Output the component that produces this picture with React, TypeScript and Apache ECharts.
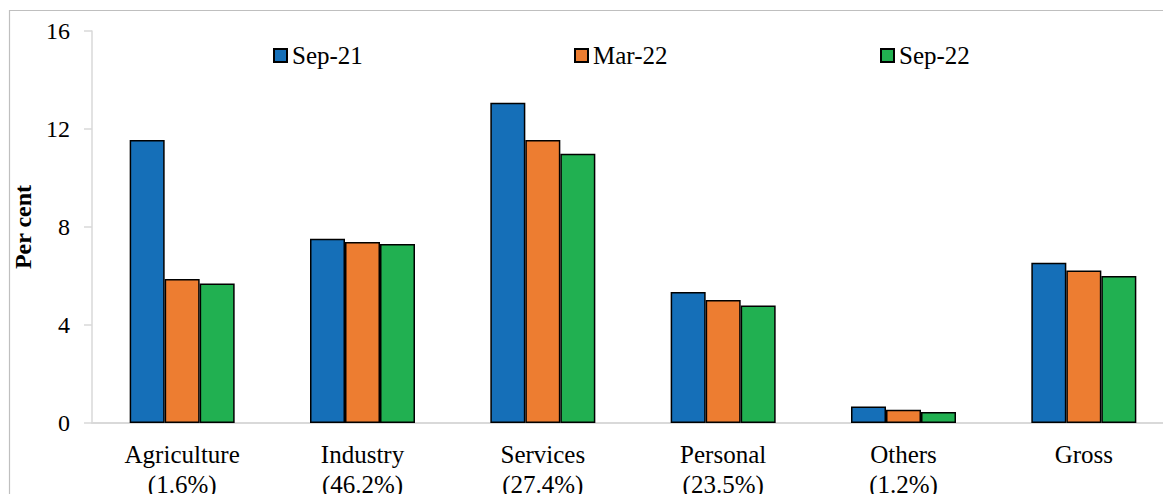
import React, { useEffect, useRef } from "react";
import * as echarts from "echarts";

const categories = [
  "Agriculture\n(1.6%)",
  "Industry\n(46.2%)",
  "Services\n(27.4%)",
  "Personal\n(23.5%)",
  "Others\n(1.2%)",
  "Gross",
];
const seriesNames = ["Sep-21", "Mar-22", "Sep-22"];
const sep21 = [11.55, 7.52, 13.07, 5.35, 0.67, 6.54];
const mar22 = [5.88, 7.39, 11.55, 5.02, 0.54, 6.22];
const sep22 = [5.69, 7.31, 10.99, 4.8, 0.45, 6.0];
const yTicks = [0, 4, 8, 12, 16];

const colors = ["#156FB8", "#ED7D31", "#21B051"];
const FONT = "Times New Roman, Liberation Serif, serif";

export default function App() {
  const ref = useRef<HTMLDivElement>(null);
  useEffect(() => {
    if (!ref.current) return;
    const chart = echarts.init(ref.current, undefined, { renderer: "svg" });
    const values = [sep21, mar22, sep22];
    const legendLefts = [273, 574, 880];
    chart.setOption({
      animation: false,
      backgroundColor: "#fff",
      textStyle: { fontFamily: FONT },
      graphic: [
        {
          type: "rect",
          shape: { x: 9.5, y: 10.5, width: 1300, height: 700 },
          style: { fill: "none", stroke: "#bfbfbf", lineWidth: 1.2 },
          silent: true,
          z: -1,
        },
      ],
      legend: seriesNames.map((n, i) => ({
        data: [n],
        left: legendLefts[i],
        top: 43,
        padding: 0,
        icon: "rect",
        itemWidth: 13,
        itemHeight: 13,
        itemGap: 5,
        textStyle: { fontFamily: FONT, fontSize: 25, color: "#000" },
      })),
      grid: {
        left: 92,
        right: -11,
        top: 31,
        bottom: 71,
        containLabel: false,
        outerBoundsMode: "none",
      },
      xAxis: {
        type: "category",
        data: categories,
        axisLine: { lineStyle: { color: "#d9d9d9", width: 2 } },
        axisTick: { show: false },
        axisLabel: {
          fontFamily: FONT,
          fontSize: 25,
          color: "#000",
          lineHeight: 30,
          margin: 16,
          interval: 0,
        },
      },
      yAxis: {
        type: "value",
        min: yTicks[0],
        max: yTicks[yTicks.length - 1],
        interval: 4,
        name: "Per cent",
        nameLocation: "middle",
        nameGap: 50,
        nameTextStyle: { fontFamily: FONT, fontSize: 24, fontWeight: "bold", color: "#000" },
        axisLine: { show: true, lineStyle: { color: "#d9d9d9", width: 1.5 } },
        axisTick: { show: true, length: 8, lineStyle: { color: "#d9d9d9", width: 1.5 } },
        splitLine: { show: false },
        axisLabel: { fontFamily: FONT, fontSize: 24, color: "#000", margin: 22 },
      },
      series: seriesNames.map((n, i) => ({
        name: n,
        type: "bar",
        data: values[i],
        barWidth: 35,
        barGap: "0%",
        itemStyle: { color: colors[i], borderColor: "#000", borderWidth: 1.5 },
      })),
    });
    return () => chart.dispose();
  }, []);
  return (
    <div
      ref={ref}
      style={{ position: "fixed", left: 0, top: 0, width: 1163, height: 494 }}
    />
  );
}
